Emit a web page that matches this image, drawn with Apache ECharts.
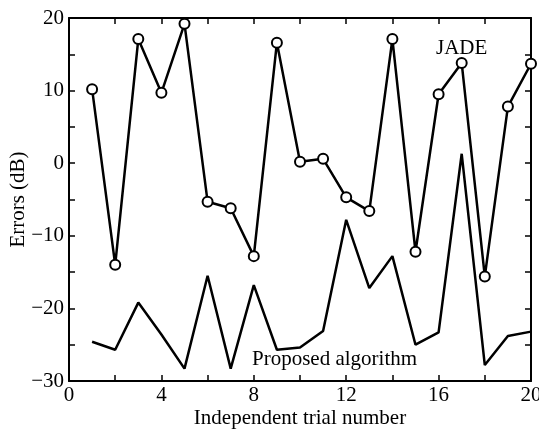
<!DOCTYPE html>
<html>
<head>
<meta charset="utf-8">
<script src="https://cdn.jsdelivr.net/npm/echarts@6/dist/echarts.min.js"></script>
<style>
  html, body { margin: 0; padding: 0; background: #fff; }
  #chart { width: 539px; height: 429px; }
</style>
</head>
<body>
<div id="chart"></div>
<script>
var trials = [1, 2, 3, 4, 5, 6, 7, 8, 9, 10, 11, 12, 13, 14, 15, 16, 17, 18, 19, 20];
var jadeErr = [10.2, -14.0, 17.1, 9.7, 19.2, -5.3, -6.2, -12.8, 16.6, 0.2,
               0.6, -4.7, -6.6, 17.1, -12.2, 9.5, 13.8, -15.6, 7.8, 13.7];
var proposedErr = [-24.6, -25.7, -19.2, -23.6, -28.3, -15.5, -28.3, -16.8, -25.7, -25.4,
                   -23.1, -7.8, -17.2, -12.8, -25.0, -23.3, 1.3, -27.8, -23.8, -23.2];

function pairs(xs, ys) {
    var out = [];
    for (var i = 0; i < xs.length; i++) out.push([xs[i], ys[i]]);
    return out;
}

var font = 'Liberation Serif, Times New Roman, serif';
var fs = 21;

var myChart = echarts.init(document.getElementById('chart'));

var tickStyle = { show: true, inside: true, length: 6, lineStyle: { color: '#000', width: 1.5 } };
var lineStyle = { show: true, onZero: false, lineStyle: { color: '#000', width: 2 } };

option = {
    animation: false,
    backgroundColor: '#fff',
    grid: { left: 69, right: 8, top: 18, bottom: 48, containLabel: false, outerBoundsMode: 'none' },
    xAxis: [{
        type: 'value',
        min: 0, max: 20, interval: 2,
        name: 'Independent trial number',
        nameLocation: 'middle',
        nameGap: 27,
        nameMoveOverlap: false,
        nameTextStyle: { fontFamily: font, fontSize: fs, color: '#000' },
        axisLine: lineStyle,
        axisTick: tickStyle,
        splitLine: { show: false },
        axisLabel: {
            fontFamily: font, fontSize: fs, color: '#000', margin: 4,
            formatter: function (v) { return v % 4 === 0 ? String(v) : ''; }
        }
    }, {
        type: 'value', position: 'top',
        min: 0, max: 20, interval: 2,
        axisLine: lineStyle,
        axisTick: tickStyle,
        splitLine: { show: false },
        axisLabel: { show: false }
    }],
    yAxis: [{
        type: 'value',
        min: -30, max: 20, interval: 5,
        name: 'Errors (dB)',
        nameLocation: 'middle',
        nameGap: 40,
        nameMoveOverlap: false,
        nameTextStyle: { fontFamily: font, fontSize: fs, color: '#000' },
        axisLine: lineStyle,
        axisTick: tickStyle,
        splitLine: { show: false },
        axisLabel: {
            fontFamily: font, fontSize: fs, color: '#000', margin: 5,
            formatter: function (v) {
                if (v % 10 !== 0) return '';
                return v < 0 ? '\u2212' + Math.abs(v) : String(v);
            }
        }
    }, {
        type: 'value', position: 'right',
        min: -30, max: 20, interval: 5,
        axisLine: lineStyle,
        axisTick: tickStyle,
        splitLine: { show: false },
        axisLabel: { show: false }
    }],
    graphic: [
        { type: 'text', left: 436, top: 38,
          style: { text: 'JADE', font: fs + 'px ' + font, fill: '#000' } },
        { type: 'text', left: 252, top: 349,
          style: { text: 'Proposed algorithm', font: fs + 'px ' + font, fill: '#000' } }
    ],
    series: [{
        name: 'JADE',
        type: 'line',
        data: pairs(trials, jadeErr),
        symbol: 'emptyCircle',
        symbolSize: 10,
        showAllSymbol: true,
        lineStyle: { color: '#000', width: 2.5 },
        itemStyle: { color: '#000', borderWidth: 2.5 },
        z: 3
    }, {
        name: 'Proposed algorithm',
        type: 'line',
        data: pairs(trials, proposedErr),
        showSymbol: false,
        symbol: 'none',
        lineStyle: { color: '#000', width: 2.5 },
        z: 2
    }]
};

myChart.setOption(option);
</script>
</body>
</html>
